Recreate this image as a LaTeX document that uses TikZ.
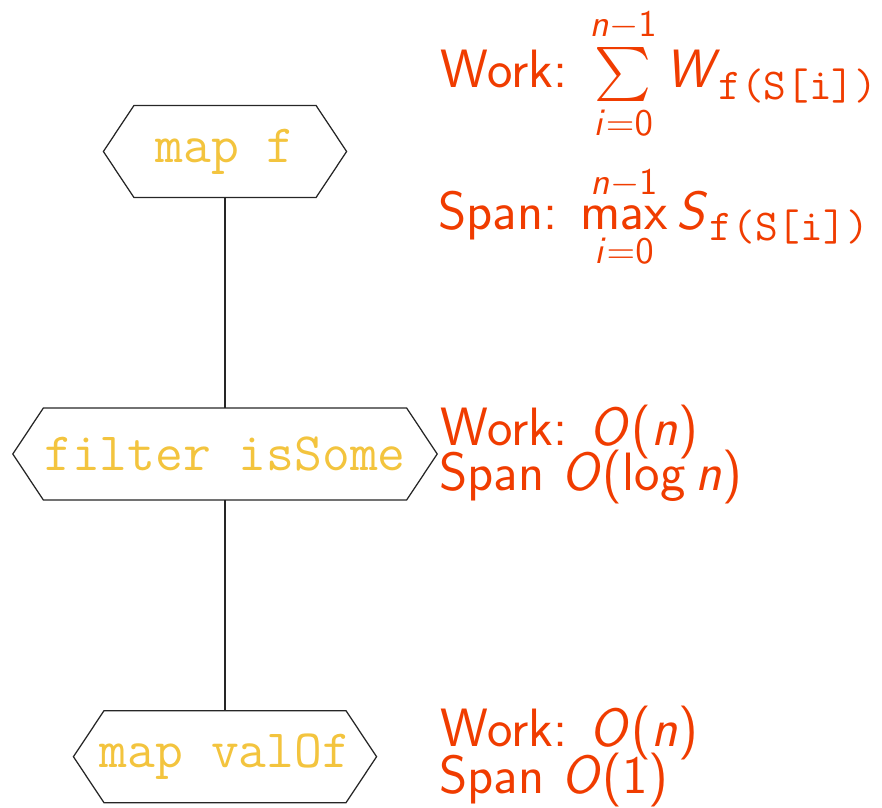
\documentclass[tikz,border=0pt]{standalone}
\usepackage{amsmath}
\SetSymbolFont{operators}{normal}{OT1}{cmss}{m}{n}
\DeclareMathAlphabet{\mathsfit}{OT1}{cmss}{m}{sl}
\definecolor{lblred}{RGB}{240,60,0}
\definecolor{opgold}{RGB}{243,196,62}
\newcommand\sv[1]{\mathsfit{#1}}
\newcommand\ttsub{\mbox{\hspace{1.5pt}\fontsize{14.1}{16}\selectfont\ttfamily f(S[i])}}
\newcommand\hexout[1]{\draw[hexline] (#1.west) -- ([xshift=9.76pt]#1.north west) -- ([xshift=-9.76pt]#1.north east) -- (#1.east) -- ([xshift=-9.76pt]#1.south east) -- ([xshift=9.76pt]#1.south west) -- cycle;}
\tikzset{
  opnode/.style={draw=none, minimum height=29pt, inner sep=0pt,
    font=\fontsize{17.28}{21}\selectfont\ttfamily, text=opgold},
  hexline/.style={draw=black!85, line width=0.4pt, line join=miter},
  conn/.style={draw=black!85, line width=0.4pt},
  lbl/.style={anchor=base west, inner sep=0pt, text=lblred,
    font=\fontsize{17.28}{21}\selectfont\sffamily}
}
\begin{document}
\begin{tikzpicture}[x=0.32pt,y=-0.32pt]
\useasboundingbox (0,0) rectangle (882,807);
\node[opnode, minimum width=77.44pt] (mapf) at (225,151.5) {map f};
\node[opnode, minimum width=135.4pt] (filt) at (225,454) {filter isSome};
\node[opnode, minimum width=96.6pt] (mapv) at (225,756.7) {map valOf};
\hexout{mapf}
\hexout{filt}
\hexout{mapv}
\draw[conn] (mapf.south) -- (filt.north);
\draw[conn] (filt.south) -- (mapv.north);
\node[lbl] (w1) at (440,88) {Work: $\sum\limits_{\sv{i}=0}^{\sv{n}-1}\sv{W}_{\ttsub}$};
\node[lbl] (s1) at (438,229) {Span: $\max\limits_{\sv{i}=0}^{\sv{n}-1}\sv{S}_{\ttsub}$};
\node[lbl] (w2) at (440,445) {Work: $\sv{O}(\sv{n})$};
\node[lbl] (s2) at (439,490.5) {Span $\sv{O}(\log\sv{n})$};
\node[lbl] (w3) at (440,746.5) {Work: $\sv{O}(\sv{n})$};
\node[lbl] (s3) at (439,793) {Span $\sv{O}(1)$};
\end{tikzpicture}
\end{document}
